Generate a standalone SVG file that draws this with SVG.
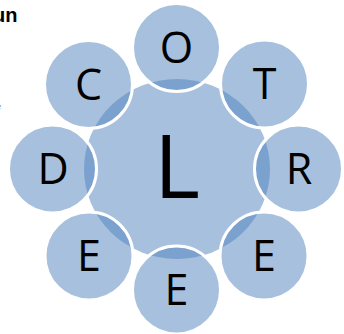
<svg xmlns="http://www.w3.org/2000/svg" width="344" height="334" viewBox="0 0 344 334">
<style>
.c{fill:#4f81bd;fill-opacity:.5;stroke:#fff;stroke-width:3}
.m{fill:#4f81bd;fill-opacity:.5}
.t{font-family:"Open Sans","Liberation Sans",sans-serif;font-size:43px;fill:#000;text-anchor:middle}
</style>
<rect width="344" height="334" fill="#fff"/>
<text x="17.5" y="22" font-family="Liberation Sans,Arial,sans-serif" font-weight="bold" font-size="20" text-anchor="end">un</text>
<text x="-5" y="110" font-family="Liberation Sans,Arial,sans-serif" font-size="11" fill="#888">e</text>
<g id="center">
<ellipse class="m" cx="177" cy="169" rx="93" ry="90"/>
<text x="177" y="198" font-family="Open Sans,Liberation Sans,sans-serif" font-size="88" text-anchor="middle">L</text>
</g>
<g id="connectors"></g>
<g id="nO"><circle class="c" cx="176.5" cy="47.5" r="44"/><text class="t" x="176.5" y="62.5">O</text></g>
<g id="nT"><circle class="c" cx="264.5" cy="84" r="44"/><text class="t" x="264.5" y="99">T</text></g>
<g id="nR"><circle class="c" cx="298.5" cy="169" r="44"/><text class="t" x="299" y="184">R</text></g>
<g id="nE1"><circle class="c" cx="264" cy="256" r="44"/><text class="t" x="264" y="271">E</text></g>
<g id="nE2"><circle class="c" cx="176.5" cy="290" r="44"/><text class="t" x="176.5" y="305">E</text></g>
<g id="nE3"><circle class="c" cx="89" cy="256" r="44"/><text class="t" x="89" y="271">E</text></g>
<g id="nD"><circle class="c" cx="52.5" cy="169" r="44"/><text class="t" x="53" y="184">D</text></g>
<g id="nC"><circle class="c" cx="88.5" cy="84.5" r="44"/><text class="t" x="88.5" y="99.5">C</text></g>
</svg>
